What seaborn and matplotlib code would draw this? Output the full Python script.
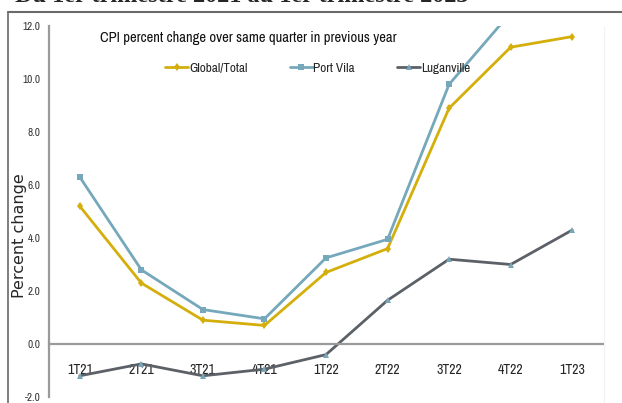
import numpy as np
import pandas as pd
import matplotlib
matplotlib.use("Agg")
import matplotlib.pyplot as plt
from matplotlib.lines import Line2D
import seaborn as sns

# data
quarters = ["1T21", "2T21", "3T21", "4T21", "1T22", "2T22", "3T22", "4T22", "1T23"]
global_total = [5.2, 2.3, 0.9, 0.7, 2.7, 3.6, 8.9, 11.2, 11.6]
port_vila = [6.3, 2.8, 1.3, 0.95, 3.25, 3.95, 9.8, 12.5, 13.0]
luganville = [-1.2, -0.75, -1.2, -0.95, -0.4, 1.65, 3.2, 3.0, 4.3]
series_names = ["Global/Total", "Port Vila", "Luganville"]
yticks = [-2.0, 0.0, 2.0, 4.0, 6.0, 8.0, 10.0, 12.0]

df = pd.concat([
    pd.DataFrame({"quarter": quarters, "value": global_total, "series": "Global/Total"}),
    pd.DataFrame({"quarter": quarters, "value": port_vila, "series": "Port Vila"}),
    pd.DataFrame({"quarter": quarters, "value": luganville, "series": "Luganville"}),
])

sns.set_style("white")
plt.rcParams['font.family'] = ['Archivo Narrow', 'Liberation Sans', 'DejaVu Sans']

colors = {"Global/Total": "#D4AF0C", "Port Vila": "#74A8BA", "Luganville": "#5C6168"}
markers = {"Global/Total": "d", "Port Vila": "s", "Luganville": "^"}

fig = plt.figure(figsize=(6.22, 4.03), dpi=100)
ax = fig.add_axes([49/622, 1-397/403, 554/622, 371/403])

sns.lineplot(data=df, x="quarter", y="value", hue="series", style="series",
             palette=colors, markers=markers, dashes=False, sort=False,
             linewidth=2, markersize=4.5, markeredgewidth=0, ax=ax, legend=False)
# luganville markers look bluish in the original
for ln in ax.lines:
    if ln.get_color() == colors["Luganville"]:
        ln.set_markerfacecolor("#78A6B8")

ax.set_ylim(-2, 12)
ax.set_xlim(-0.5, len(quarters) - 0.5)
ax.set_yticks(yticks)
ax.set_yticklabels([f"{t:.1f}" for t in yticks], fontsize=8, color="#333333")
ax.set_xticks(range(len(quarters)))
ax.set_xticklabels(quarters, fontsize=10.5, color="#222222")
ax.set_xticks(np.arange(-0.5, len(quarters)), minor=True)
ax.tick_params(axis="x", which="major", length=0, pad=14)
ax.tick_params(axis="x", which="minor", length=6, width=1.2, color="#9a9a9a", direction="out")
ax.tick_params(axis="y", length=4, width=1.2, color="#9a9a9a", direction="out", pad=2)
ax.set_xlabel("")
ax.set_ylabel("")

ax.spines['bottom'].set_position(('data', 0))
ax.spines['bottom'].set_color("#9a9a9a")
ax.spines['bottom'].set_linewidth(1.6)
ax.spines['left'].set_color("#9a9a9a")
ax.spines['left'].set_linewidth(1.6)
ax.spines['top'].set_visible(False)
ax.spines['right'].set_visible(False)

ax.text(0.092, 0.968, "CPI percent change over same quarter in previous year",
        transform=ax.transAxes, fontsize=10.5, va="center", ha="left", color="#111111")

handles = [Line2D([0], [0], color=colors[s], marker=markers[s], lw=2, markersize=4.5,
                  markeredgewidth=0) for s in series_names]
handles[2].set_markerfacecolor("#78A6B8")
ax.legend(handles, series_names, ncol=3, frameon=False, loc="center",
          bbox_to_anchor=(0.485, 0.887), fontsize=9.5, handlelength=1.75,
          handletextpad=0.05, columnspacing=3.2)

fig.text(20/622, 1-236/403, "Percent change", rotation=90, ha="center", va="center",
         fontsize=11.5, family="DejaVu Sans")

# heading that is cut off above the frame in the original
fig.text(15/622, 1-1.5/403, "Du 1er trimestre 2021 au 1er trimestre 2023",
         fontsize=17.5, fontweight="bold", family="Liberation Serif", va="baseline", ha="left")

# frame around the chart (top and left only visible)
fig.add_artist(Line2D([8/622, 1], [1-12/403, 1-12/403], transform=fig.transFigure,
                      color="#6a6a6a", lw=1.5))
fig.add_artist(Line2D([8/622, 8/622], [0, 1-12/403], transform=fig.transFigure,
                      color="#6a6a6a", lw=1.2))
fig.add_artist(Line2D([604/622, 604/622], [0, 1-26/403], transform=fig.transFigure,
                      color="#f2f2f2", lw=0.8))

fig.savefig("out.png", dpi=100)
